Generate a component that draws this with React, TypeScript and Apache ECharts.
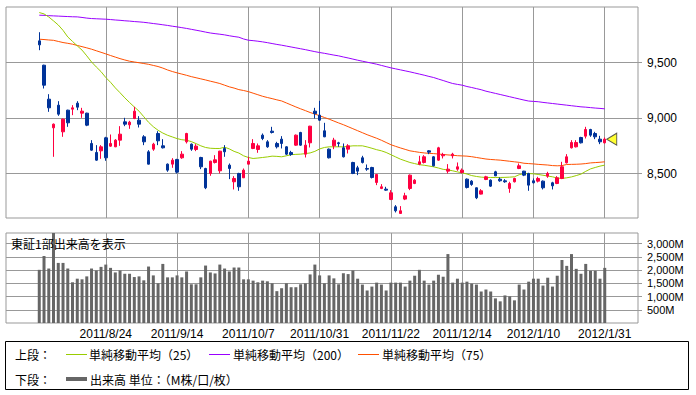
import React, { useEffect, useRef } from "react";
import * as echarts from "echarts";

const FONT = '"Noto Sans CJK JP", "Noto Sans", sans-serif';
const NUM_FONT = '"Liberation Sans", Arial, sans-serif';

const dates = [
  "2011/8/4","2011/8/5","2011/8/8","2011/8/9","2011/8/10","2011/8/11","2011/8/12","2011/8/15","2011/8/16","2011/8/17",
  "2011/8/18","2011/8/19","2011/8/22","2011/8/23","2011/8/24","2011/8/25","2011/8/26","2011/8/29","2011/8/30","2011/8/31",
  "2011/9/1","2011/9/2","2011/9/5","2011/9/6","2011/9/7","2011/9/8","2011/9/9","2011/9/12","2011/9/13","2011/9/14",
  "2011/9/15","2011/9/16","2011/9/20","2011/9/21","2011/9/22","2011/9/26","2011/9/27","2011/9/28","2011/9/29","2011/9/30",
  "2011/10/3","2011/10/4","2011/10/5","2011/10/6","2011/10/7","2011/10/11","2011/10/12","2011/10/13","2011/10/14","2011/10/17",
  "2011/10/18","2011/10/19","2011/10/20","2011/10/21","2011/10/24","2011/10/25","2011/10/26","2011/10/27","2011/10/28","2011/10/31",
  "2011/11/1","2011/11/2","2011/11/4","2011/11/7","2011/11/8","2011/11/9","2011/11/10","2011/11/11","2011/11/14","2011/11/15",
  "2011/11/16","2011/11/17","2011/11/18","2011/11/21","2011/11/22","2011/11/24","2011/11/25","2011/11/28","2011/11/29","2011/11/30",
  "2011/12/1","2011/12/2","2011/12/5","2011/12/6","2011/12/7","2011/12/8","2011/12/9","2011/12/12","2011/12/13","2011/12/14",
  "2011/12/15","2011/12/16","2011/12/19","2011/12/20","2011/12/21","2011/12/22","2011/12/26","2011/12/27","2011/12/28","2011/12/29",
  "2011/12/30","2012/1/4","2012/1/5","2012/1/6","2012/1/10","2012/1/11","2012/1/12","2012/1/13","2012/1/16","2012/1/17",
  "2012/1/18","2012/1/19","2012/1/20","2012/1/23","2012/1/24","2012/1/25","2012/1/26","2012/1/27","2012/1/30","2012/1/31",
];

const tickLabels = ["2011/8/24","2011/9/14","2011/10/7","2011/10/31","2011/11/22","2011/12/14","2012/1/10","2012/1/31"];

const opens = [
  9695,9476,9170,8912,9116,8876,9071,9080,9134,9044,
  9044,8771,8690,8705,8822,8747,8741,8801,8966,8939,
  8996,8981,8831,8696,8720,8861,8750,8585,8585,8627,
  8642,8786,8765,8717,8645,8546,8501,8600,8525,8726,
  8576,8426,8501,8462,8585,8726,8717,8846,8786,8882,
  8771,8810,8741,8690,8756,8870,8675,8777,9062,9026,
  8885,8720,8750,8777,8732,8720,8600,8552,8642,8546,
  8555,8420,8366,8360,8267,8201,8141,8270,8366,8411,
  8585,8600,8705,8651,8621,8660,8522,8660,8540,8510,
  8450,8432,8372,8315,8447,8441,8516,8450,8435,8366,
  8426,8546,8522,8501,8435,8432,8432,8477,8417,8411,
  8456,8597,8732,8741,8825,8837,8897,8861,8810,8777,
];
const closes = [
  9659,9296,9092,8945,9035,8990,8957,9092,9098,9062,
  8936,8711,8621,8741,8642,8771,8801,8855,8945,8963,
  9062,8945,8786,8585,8765,8795,8732,8531,8621,8513,
  8675,8861,8720,8747,8561,8372,8612,8624,8702,8696,
  8546,8456,8381,8531,8612,8771,8750,8816,8741,8870,
  8741,8771,8675,8672,8846,8756,8756,8927,9040,8981,
  8831,8642,8801,8770,8651,8750,8501,8522,8600,8540,
  8465,8492,8381,8351,8327,8165,8165,8300,8486,8441,
  8606,8651,8693,8570,8732,8672,8540,8675,8561,8531,
  8375,8402,8282,8345,8471,8387,8480,8435,8426,8411,
  8456,8570,8486,8396,8417,8456,8372,8501,8390,8462,
  8561,8651,8780,8780,8777,8897,8846,8831,8786,8810,
];
const lows = [
  9611,9266,9056,8651,9020,8831,8921,9026,9071,9002,
  8927,8705,8615,8633,8615,8741,8738,8750,8927,8903,
  8990,8915,8756,8582,8705,8756,8726,8516,8552,8501,
  8633,8771,8705,8702,8540,8360,8480,8591,8501,8651,
  8450,8357,8345,8460,8582,8720,8687,8801,8732,8861,
  8726,8726,8666,8660,8750,8750,8645,8735,8996,8975,
  8828,8636,8720,8741,8645,8681,8495,8486,8591,8525,
  8456,8396,8360,8345,8261,8150,8138,8261,8351,8405,
  8576,8591,8675,8564,8615,8636,8501,8636,8525,8501,
  8366,8390,8270,8312,8441,8380,8477,8426,8417,8327,
  8420,8540,8477,8345,8411,8420,8357,8462,8357,8405,
  8450,8591,8726,8735,8771,8816,8831,8810,8765,8771,
];
const highs = [
  9773,9480,9215,8951,9152,8995,9075,9116,9152,9092,
  9048,8801,8756,8756,8831,8852,8810,8927,9002,8975,
  9101,9017,8846,8711,8777,8882,8810,8591,8639,8633,
  8702,8867,8771,8765,8651,8552,8615,8666,8705,8756,
  8591,8477,8507,8546,8651,8810,8771,8861,8801,8921,
  8786,8837,8747,8705,8852,8876,8801,8930,9092,9155,
  8957,8726,8822,8786,8771,8765,8606,8570,8660,8582,
  8561,8495,8405,8381,8351,8216,8207,8327,8492,8450,
  8660,8666,8711,8657,8741,8687,8585,8687,8600,8546,
  8456,8441,8375,8360,8480,8447,8525,8465,8450,8426,
  8462,8591,8525,8507,8456,8471,8438,8516,8426,8477,
  8606,8675,8801,8801,8831,8921,8903,8876,8840,8825,
];

const ma25 = [
  9950,9938,9910,9875,9838,9790,9730,9690,9650,9612,
  9560,9505,9460,9418,9365,9322,9272,9228,9182,9140,
  9100,9062,9012,8962,8922,8890,8865,8845,8830,8815,
  8805,8800,8788,8770,8750,8735,8728,8726,8726,8738,
  8722,8700,8685,8660,8645,8636,8640,8645,8650,8657,
  8655,8651,8660,8670,8673,8675,8680,8686,8700,8722,
  8735,8741,8741,8741,8741,8745,8750,8750,8750,8740,
  8728,8715,8705,8690,8670,8650,8630,8615,8600,8590,
  8580,8575,8568,8561,8550,8538,8533,8525,8515,8507,
  8496,8482,8474,8468,8465,8465,8465,8465,8466,8468,
  8471,8490,8500,8500,8498,8492,8485,8478,8471,8460,
  8456,8462,8470,8482,8495,8520,8542,8555,8567,8576,
];
const ma75 = [
  9710,9707,9703,9700,9690,9680,9673,9665,9654,9643,
  9632,9620,9606,9592,9578,9563,9549,9535,9523,9512,
  9505,9498,9491,9484,9474,9464,9450,9433,9419,9407,
  9396,9385,9373,9363,9353,9343,9332,9322,9311,9296,
  9281,9270,9256,9248,9238,9224,9210,9196,9185,9175,
  9164,9154,9136,9118,9100,9083,9067,9050,9036,9021,
  9005,8990,8973,8956,8940,8922,8904,8886,8868,8850,
  8834,8818,8800,8780,8760,8745,8731,8718,8705,8698,
  8691,8686,8682,8680,8676,8672,8668,8665,8661,8659,
  8657,8652,8645,8638,8631,8627,8624,8621,8616,8611,
  8606,8601,8593,8590,8587,8583,8580,8577,8572,8570,
  8572,8582,8583,8584,8586,8590,8596,8599,8602,8606,
];
const ma200 = [
  9926,9925,9922,9920,9918,9916,9914,9912,9911,9906,
  9900,9896,9894,9892,9890,9887,9883,9880,9876,9873,
  9869,9866,9862,9857,9851,9846,9840,9834,9827,9821,
  9814,9807,9799,9791,9783,9774,9766,9760,9755,9749,
  9741,9734,9728,9712,9701,9697,9692,9686,9679,9671,
  9663,9656,9648,9640,9632,9624,9616,9607,9598,9590,
  9583,9575,9567,9560,9550,9541,9531,9521,9512,9503,
  9494,9485,9474,9463,9452,9443,9434,9425,9416,9406,
  9396,9386,9375,9365,9351,9338,9324,9311,9303,9296,
  9284,9275,9265,9255,9242,9232,9222,9212,9202,9192,
  9182,9172,9162,9153,9150,9147,9141,9136,9131,9126,
  9121,9116,9111,9106,9101,9098,9094,9090,9087,9083,
];

const volumes = [
  2009,2530,2058,3450,2270,2270,2058,1538,1674,1650,
  1761,2058,1984,2120,2207,2083,1910,1984,1860,1860,
  1736,1761,1612,2133,1798,1500,2232,1724,1724,1798,
  1724,1947,1463,1463,1724,2170,1910,1872,2207,2058,
  1947,2096,2096,1650,1650,1600,1538,1600,1575,1500,
  1203,1314,1500,1352,1352,1463,1500,1835,2207,1798,
  1500,1798,1686,1463,1880,1848,1984,1674,1451,1228,
  1376,1525,1451,1228,1525,1525,1525,1376,1600,1786,
  2009,1600,1451,1600,1823,1748,2604,1525,1674,1525,
  1562,1488,1451,1190,1265,1190,930,818,1042,1004,
  856,1451,1265,1562,1674,1674,1414,1711,1376,1786,
  2381,2158,2604,2046,1860,2232,1972,1972,1674,2083,
];

const priceTicks = [8500, 9000, 9500];
const volumeTicks = [500, 1000, 1500, 2000, 2500, 3000];

const PAD = 7;
const categories = [
  ...Array.from({ length: PAD }, (_, i) => `pre${i}`),
  ...dates,
  ...Array.from({ length: PAD }, (_, i) => `post${i}`),
];

const fmt = (v: number) => String(v).replace(/\B(?=(\d{3})+(?!\d))/g, ",");
const isTick = (_i: number, v: string) => tickLabels.indexOf(v) >= 0;

const txt = (text: string, x: number, y: number) => ({
  type: "text",
  silent: true,
  style: {
    text,
    x,
    y,
    fill: "#000",
    font: `12px ${FONT}`,
    textAlign: "left",
    textVerticalAlign: "middle",
    align: "left",
    verticalAlign: "middle",
  },
  z: 100,
});

export default function App() {
  const ref = useRef<HTMLDivElement>(null);
  useEffect(() => {
    if (!ref.current) return;
    const chart = echarts.init(ref.current, undefined, { renderer: "svg" });
    const gridLine = { color: "#999", width: 1 };
    const option: any = {
      animation: false,
      backgroundColor: "#fff",
      textStyle: { fontFamily: FONT },
      grid: [
        { left: 6, top: 7, width: 632, height: 211, show: true, borderColor: "#999", borderWidth: 1, backgroundColor: "transparent" },
        { left: 6, top: 233, width: 632, height: 90, show: true, borderColor: "#999", borderWidth: 1, backgroundColor: "transparent" },
      ],
      xAxis: [
        {
          type: "category", gridIndex: 0, data: categories, boundaryGap: false,
          axisLine: { show: false }, axisTick: { show: false }, axisLabel: { show: false },
          splitLine: { show: true, interval: isTick, lineStyle: gridLine },
        },
        {
          type: "category", gridIndex: 1, data: categories, boundaryGap: false,
          axisLine: { show: false }, axisTick: { show: false },
          axisLabel: { show: true, interval: isTick, color: "#000", fontSize: 12, fontFamily: NUM_FONT, margin: 5 },
          splitLine: { show: true, interval: isTick, lineStyle: gridLine },
        },
      ],
      yAxis: [
        {
          type: "value", gridIndex: 0, position: "right", min: 8100, max: 10000,
          axisLine: { show: false },
          axisTick: { show: true, length: 4, customValues: priceTicks, lineStyle: gridLine },
          axisLabel: { customValues: priceTicks, formatter: (v: number) => fmt(v), margin: 9, color: "#000", fontSize: 12, lineHeight: 12, fontFamily: NUM_FONT },
          splitLine: { show: true, lineStyle: gridLine },
        },
        {
          type: "value", gridIndex: 1, position: "right", min: 0, max: 3400,
          axisLine: { show: false },
          axisTick: { show: true, length: 4, customValues: volumeTicks, lineStyle: gridLine },
          axisLabel: { customValues: volumeTicks, formatter: (v: number) => fmt(v) + "M", margin: 9, color: "#000", fontSize: 11, lineHeight: 11, fontFamily: NUM_FONT },
          splitLine: { show: true, lineStyle: gridLine },
        },
      ],
      series: [
        {
          type: "line", name: "MA200", xAxisIndex: 0, yAxisIndex: 0, showSymbol: false, z: 2,
          data: dates.map((d, i) => [d, ma200[i]]),
          lineStyle: { color: "#9900ff", width: 1 },
        },
        {
          type: "line", name: "MA75", xAxisIndex: 0, yAxisIndex: 0, showSymbol: false, z: 2,
          data: dates.map((d, i) => [d, ma75[i]]),
          lineStyle: { color: "#ff5000", width: 1 },
        },
        {
          type: "line", name: "MA25", xAxisIndex: 0, yAxisIndex: 0, showSymbol: false, z: 2,
          data: dates.map((d, i) => [d, ma25[i]]),
          lineStyle: { color: "#99cc00", width: 1 },
        },
        {
          type: "candlestick", xAxisIndex: 0, yAxisIndex: 0, z: 3, barWidth: 3,
          encode: { x: 0, y: [1, 2, 3, 4] },
          data: dates.map((d, i) => [d, opens[i], closes[i], lows[i], highs[i]]),
          itemStyle: { color: "#ff0040", color0: "#003399", borderColor: "#ff0040", borderColor0: "#003399", borderWidth: 1 },
        },
        {
          type: "scatter", xAxisIndex: 0, yAxisIndex: 0, z: 5,
          data: [[dates[dates.length - 1], closes[closes.length - 1]]],
          symbol: "path://M0,6 L11,0 L11,12 Z",
          symbolSize: [10, 12],
          symbolOffset: [7, 0],
          itemStyle: { color: "#ffff00", borderColor: "#333", borderWidth: 1 },
        },
        {
          type: "bar", xAxisIndex: 1, yAxisIndex: 1, barWidth: 3,
          data: dates.map((d, i) => [d, volumes[i]]),
          itemStyle: { color: "#666666" },
        },
      ],
      graphic: [
        txt("東証1部出来高を表示", 11, 243),
        {
          type: "rect", silent: true, z: 90,
          shape: { x: 5.5, y: 341.5, width: 683, height: 48 },
          style: { fill: "#fff", stroke: "#000", lineWidth: 1 },
        },
        txt("上段：", 15, 354),
        { type: "line", silent: true, z: 100, shape: { x1: 66, y1: 354.5, x2: 87, y2: 354.5 }, style: { stroke: "#99cc00", lineWidth: 1 } },
        txt("単純移動平均（25）", 89, 354),
        { type: "line", silent: true, z: 100, shape: { x1: 209, y1: 354.5, x2: 230, y2: 354.5 }, style: { stroke: "#9900ff", lineWidth: 1 } },
        txt("単純移動平均（200）", 233, 354),
        { type: "line", silent: true, z: 100, shape: { x1: 358, y1: 354.5, x2: 379, y2: 354.5 }, style: { stroke: "#ff5000", lineWidth: 1 } },
        txt("単純移動平均（75）", 382, 354),
        txt("下段：", 15, 379),
        { type: "rect", silent: true, z: 100, shape: { x: 66, y: 377, width: 21, height: 4 }, style: { fill: "#666666" } },
        txt("出来高 単位：（M株/口/枚）", 90, 379),
      ],
    };
    chart.setOption(option);
    return () => chart.dispose();
  }, []);
  return (
    <div
      ref={ref}
      style={{ position: "absolute", left: 0, top: 0, width: 696, height: 395, background: "#fff" }}
    />
  );
}
